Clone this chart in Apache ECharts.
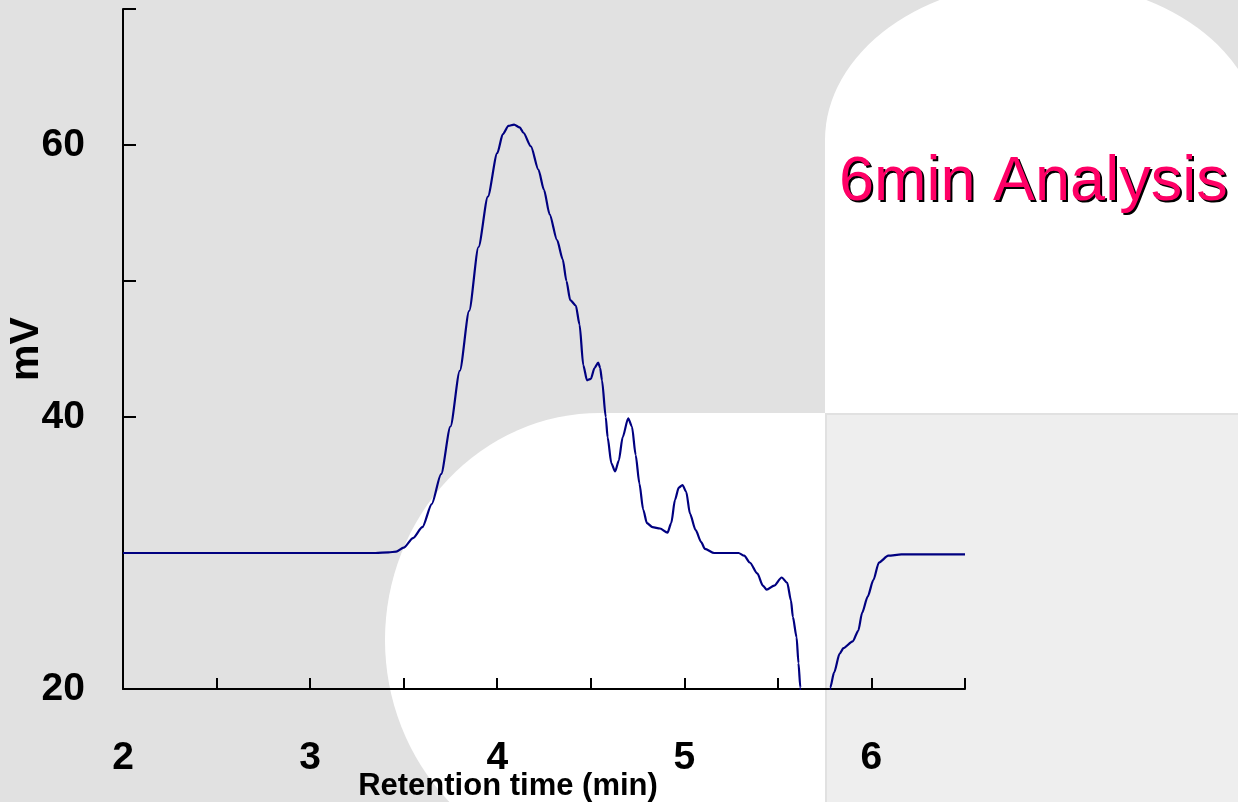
<!DOCTYPE html>
<html>
<head>
<meta charset="utf-8">
<script src="https://cdn.jsdelivr.net/npm/echarts@6/dist/echarts.min.js"></script>
<style>
html,body{margin:0;padding:0;background:#e1e1e1;}
#chart{width:1238px;height:802px;}
</style>
</head>
<body>
<div id="chart"></div>
<script>
// Retention time (min)
const times = [2.00,2.50,3.00,3.35,3.42,3.46,3.50,3.55,3.60,3.65,3.70,3.75,3.80,3.85,3.90,3.95,4.00,4.03,4.06,4.09,4.12,4.14,4.18,4.22,4.25,4.28,4.32,4.35,4.37,4.39,4.42,4.44,4.46,4.48,4.50,4.52,4.54,4.55,4.56,4.58,4.59,4.61,4.63,4.65,4.67,4.70,4.72,4.74,4.76,4.78,4.80,4.83,4.87,4.91,4.93,4.95,4.97,4.99,5.01,5.03,5.06,5.09,5.11,5.16,5.29,5.32,5.35,5.39,5.42,5.44,5.48,5.52,5.55,5.57,5.58,5.60,5.61,5.62,5.63,5.77,5.78,5.80,5.83,5.85,5.90,5.93,5.95,5.98,6.01,6.04,6.09,6.16,6.50];
// Detector signal (mV)
const signal = [30.0,30.0,30.0,30.0,30.05,30.1,30.4,31.1,31.9,33.6,35.8,39.3,43.4,47.8,52.5,56.2,59.4,60.8,61.4,61.5,61.3,60.9,59.9,58.2,56.7,54.9,53.0,51.6,50.0,48.6,48.2,46.8,43.8,42.7,42.8,43.6,44.0,43.6,42.7,40.0,38.5,36.6,36.0,36.8,38.5,39.9,39.3,37.2,35.1,33.2,32.2,31.9,31.8,31.5,32.2,33.9,34.8,35.0,34.5,32.9,31.7,30.8,30.3,30.0,30.0,29.8,29.3,28.5,27.6,27.3,27.6,28.2,27.8,26.5,25.3,23.8,21.9,20.1,14.0,14.0,20.1,21.2,22.6,23.0,23.5,24.3,25.6,26.8,28.0,29.3,29.8,29.9,29.9];
const xLabels = [2,3,4,5,6];
const yLabels = [20,40,60];
const titleText = '6min Analysis';
const xName = 'Retention time (min)';
const yName = 'mV';

const data = times.map((t,i)=>[t, signal[i]]);
const FONT = '"Liberation Sans", Arial, sans-serif';

const chart = echarts.init(document.getElementById('chart'));
chart.setOption({
  backgroundColor: '#e1e1e1',
  animation: false,
  title: {
    text: titleText,
    left: 834,
    top: 146,
    textStyle: {
      fontFamily: FONT,
      fontSize: 63,
      fontWeight: 'normal',
      color: '#ff0066',
      textShadowColor: '#000',
      textShadowOffsetX: 2,
      textShadowOffsetY: 2,
      textShadowBlur: 0.01
    }
  },
  graphic: [
    { type:'rect', z:-10, silent:true, shape:{x:827,y:415,width:411,height:387}, style:{fill:'#eeeeee'} },
    { type:'circle', z:-9, silent:true, x:1043, y:140, scaleY:159/218, shape:{cx:0,cy:0,r:218}, style:{fill:'#ffffff'} },
    { type:'rect', z:-9, silent:true, shape:{x:825,y:140,width:413,height:273}, style:{fill:'#ffffff'} },
    { type:'circle', z:-9, silent:true, x:600, y:640, scaleY:227/215, shape:{cx:0,cy:0,r:215}, style:{fill:'#ffffff'} },
    { type:'rect', z:-9, silent:true, shape:{x:600,y:413,width:225,height:389}, style:{fill:'#ffffff'} }
  ],
  grid: { left:123, right:273, top:9, bottom:113, containLabel:false, outerBoundsMode:'none' },
  xAxis: {
    type:'value', min:2, max:6.5, interval:0.5,
    name: xName, nameLocation:'middle', nameGap:82, nameMoveOverlap:false,
    nameTextStyle:{ fontFamily:FONT, fontWeight:'bold', fontSize:31, color:'#000', padding:[0,72,0,0] },
    axisLine:{ show:true, onZero:false, lineStyle:{ color:'#000', width:2 } },
    axisTick:{ show:true, inside:true, length:11, lineStyle:{ color:'#000', width:2 } },
    splitLine:{ show:false },
    axisLabel:{
      margin:50, fontFamily:FONT, fontWeight:'bold', fontSize:39, color:'#000',
      showMaxLabel:true,
      formatter: v => xLabels.indexOf(Math.round(v*100)/100) >= 0 ? String(v) : ''
    }
  },
  yAxis: {
    type:'value', min:20, max:70, interval:10,
    name: yName, nameLocation:'middle', nameGap:76, nameMoveOverlap:false,
    nameTextStyle:{ fontFamily:FONT, fontWeight:'bold', fontSize:41, color:'#000' },
    axisLine:{ show:true, onZero:false, lineStyle:{ color:'#000', width:2 } },
    axisTick:{ show:true, inside:true, length:13, lineStyle:{ color:'#000', width:2 } },
    splitLine:{ show:false },
    axisLabel:{
      margin:38, fontFamily:FONT, fontWeight:'bold', fontSize:39, color:'#000',
      formatter: v => yLabels.indexOf(v) >= 0 ? String(v) : ''
    }
  },
  series: [{
    type:'line',
    data: data,
    showSymbol:false,
    symbol:'none',
    clip:true,
    smooth:0.25,
    smoothMonotone:'x',
    lineStyle:{ color:'#000080', width:2.2 }
  }]
});
</script>
</body>
</html>
